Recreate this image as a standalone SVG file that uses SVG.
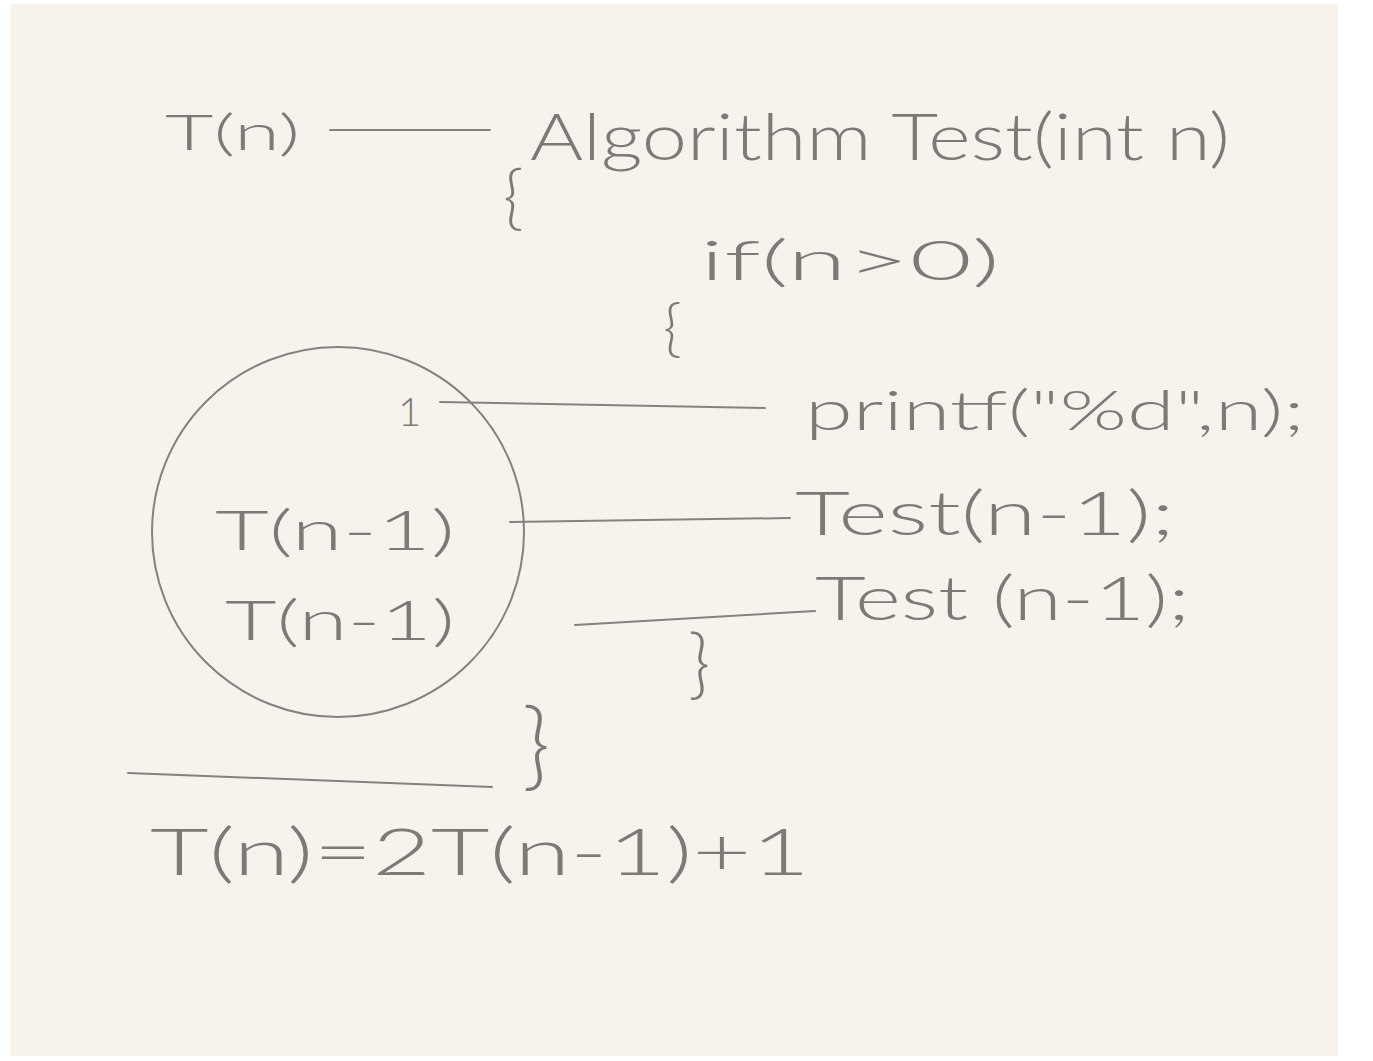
<svg xmlns="http://www.w3.org/2000/svg" width="1373" height="1061" viewBox="0 0 1373 1061">
<style>
.t{font-family:"Lato","Roboto","Liberation Sans",sans-serif;fill:#7d7975;font-weight:300}
.ln{stroke:#86817d;stroke-width:2;fill:none;stroke-linecap:round}
</style>
<rect x="0" y="0" width="1373" height="1061" fill="#ffffff"/>
<rect x="11" y="4" width="1327" height="1052" fill="#f7f2ec"/>
<g id="tn-top"><text class="t" x="165" y="150" font-size="50" textLength="135" lengthAdjust="spacingAndGlyphs">T(n)</text></g>
<g id="algo"><text class="t" x="530" y="160" font-size="66" textLength="700" lengthAdjust="spacingAndGlyphs">Algorithm Test(int n)</text></g>
<g id="brace1"><text class="t" x="503" y="222" font-size="70">{</text></g>
<g id="if"><text class="t" x="700" y="280" font-size="56" textLength="300" lengthAdjust="spacingAndGlyphs">if(n&gt;0)</text></g>
<g id="brace2"><text class="t" x="663" y="350" font-size="64">{</text></g>
<g id="one"><text class="t" x="398" y="426" font-size="40">1</text></g>
<g id="printf"><text class="t" x="805" y="430" font-size="56" textLength="500" lengthAdjust="spacingAndGlyphs">printf("%d",n);</text></g>
<g id="tnm1a"><text class="t" x="215" y="550" font-size="56" textLength="240" lengthAdjust="spacingAndGlyphs">T(n-1)</text></g>
<g id="test1"><text class="t" x="795" y="535" font-size="62" textLength="380" lengthAdjust="spacingAndGlyphs">Test(n-1);</text></g>
<g id="tnm1b"><text class="t" x="225" y="640" font-size="56" textLength="230" lengthAdjust="spacingAndGlyphs">T(n-1)</text></g>
<g id="test2"><text class="t" x="815" y="620" font-size="62" textLength="375" lengthAdjust="spacingAndGlyphs">Test (n-1);</text></g>
<g id="brace3"><text class="t" x="688" y="690" font-size="76">}</text></g>
<g id="brace4"><text class="t" x="522" y="778" font-size="96">}</text></g>
<g id="circle"><ellipse class="ln" cx="338" cy="532" rx="186" ry="185" stroke-width="1.5"/></g>
<g id="result"><text class="t" x="150" y="875" font-size="66" textLength="660" lengthAdjust="spacingAndGlyphs">T(n)=2T(n-1)+1</text></g>
<g id="connectors">
<line class="ln" x1="330" y1="130" x2="490" y2="130"/>
<line class="ln" x1="440" y1="402" x2="765" y2="408"/>
<line class="ln" x1="510" y1="522" x2="790" y2="518"/>
<line class="ln" x1="575" y1="625" x2="815" y2="611"/>
<line class="ln" x1="128" y1="773" x2="492" y2="787"/>
</g>
</svg>
